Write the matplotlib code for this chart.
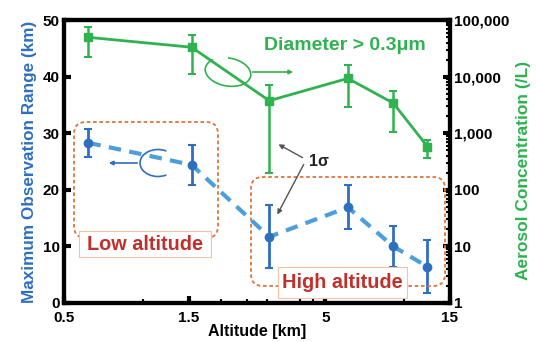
import matplotlib
matplotlib.use('Agg')
import matplotlib.pyplot as plt
from matplotlib.patches import FancyBboxPatch, Arc, Rectangle
from matplotlib.ticker import FixedLocator, NullFormatter, FixedFormatter

plt.rcParams['font.family'] = ['Liberation Sans', 'DejaVu Sans']
plt.rcParams['font.weight'] = 'bold'

# ---- data ----
altitude = [0.62, 1.54, 3.05, 6.1, 9.1, 12.3]
obs_range = [28.3, 24.4, 11.7, 16.9, 10.0, 6.4]
obs_err = [2.5, 3.5, 5.6, 3.9, 3.6, 4.7]
aerosol = [49400, 33000, 3750, 9300, 3400, 580]
aerosol_hi = [76000, 54000, 7100, 16000, 5600, 760]
aerosol_lo = [22500, 11100, 200, 2900, 1060, 360]
x_ticks = [0.5, 1.5, 5, 15]
x_tick_labels = ['0.5', '1.5', '5', '15']
x_minor = [1, 2, 2.5, 3, 4, 4.5, 10]
left_ticks = [0, 10, 20, 30, 40, 50]
right_ticks = [1, 10, 100, 1000, 10000, 100000]
right_tick_labels = ['1', '10', '100', '1,000', '10,000', '100,000']

BLUE = '#2f6fbf'
BLUE_L = '#4d9fdc'
GREEN = '#2fb24f'
ORANGE = '#e0743a'
RED = '#c0302c'

W, H = 536, 342
fig = plt.figure(figsize=(W / 100, H / 100), dpi=100)
ax = fig.add_axes([64 / W, 39 / H, 386 / W, 283 / H])
ax2 = ax.twinx()

# green series (right axis)
gerr = [[v - lo for v, lo in zip(aerosol, aerosol_lo)],
        [hi - v for v, hi in zip(aerosol, aerosol_hi)]]
ax2.errorbar(altitude, aerosol, yerr=gerr, color=GREEN, lw=2, marker='s',
             ms=6, capsize=3, capthick=1.5, elinewidth=1.8, zorder=3)
ax2.set_yscale('log')
ax2.set_ylim(1, 100000)

# blue series (left axis)
ax.errorbar(altitude, obs_range, yerr=obs_err, color=BLUE, ecolor=BLUE,
            lw=0, marker='o', ms=6, capsize=3, capthick=1.5, elinewidth=2,
            zorder=4)
ax.plot(altitude, obs_range, color=BLUE_L, lw=3, ls=(0, (3, 2)), zorder=4)
ax.set_zorder(ax2.get_zorder() + 1)
ax.patch.set_visible(False)

ax.set_xscale('log')
ax.set_xlim(0.5, 15)
ax.set_ylim(0, 50)
ax.xaxis.set_major_locator(FixedLocator(x_ticks))
ax.xaxis.set_major_formatter(FixedFormatter(x_tick_labels))
ax.xaxis.set_minor_locator(FixedLocator(x_minor))
ax.xaxis.set_minor_formatter(NullFormatter())
ax.set_yticks(left_ticks)

ax2.yaxis.set_major_locator(FixedLocator(right_ticks))
ax2.yaxis.set_major_formatter(FixedFormatter(right_tick_labels))

for a in (ax, ax2):
    for s in a.spines.values():
        s.set_linewidth(3)
    a.tick_params(axis='both', which='major', direction='in', length=5,
                  width=3, labelsize=11, pad=3)
    a.tick_params(axis='both', which='minor', direction='in', length=3,
                  width=1.5)
ax.tick_params(axis='x', which='both', top=False)
ax.tick_params(axis='x', which='major', pad=6)

ax.set_xlabel('Altitude [km]', fontsize=11.5, fontweight='bold', labelpad=-1)
ax.set_ylabel('Maximum Observation Range (km)', fontsize=12.3,
              fontweight='bold', color=BLUE, labelpad=4)
ax2.set_ylabel('Aerosol Concentration (/L)', fontsize=12.5,
               fontweight='bold', color=GREEN, labelpad=5)
ax2.yaxis.label.set_y(0.47)

# ---- overlay for annotations (pixel coordinates, y from top) ----
ov = fig.add_axes([0, 0, 1, 1], zorder=10)
ov.set_xlim(0, W)
ov.set_ylim(0, H)
ov.axis('off')
ov.patch.set_visible(False)


def P(x, y):
    return (x, H - y)


def rbox(x0, y0, x1, y1):
    ov.add_patch(FancyBboxPatch(P(x0, y1), x1 - x0, y1 - y0,
                                boxstyle='round,pad=0,rounding_size=12',
                                fc='none', ec=ORANGE, lw=1.3,
                                ls=(0, (2, 1.5))))


def label_box(x0, y0, x1, y1, text):
    ov.add_patch(Rectangle(P(x0, y1), x1 - x0, y1 - y0, fc='white',
                           ec='#f2c2a4', lw=0.8))
    cx, cy = P((x0 + x1) / 2, (y0 + y1) / 2)
    ov.text(cx, cy, text, color=RED, fontsize=14.3, fontweight='bold',
            ha='center', va='center')


rbox(74, 122, 218, 238)
label_box(79, 231, 211, 257, 'Low altitude')
rbox(251, 177, 445, 286)
label_box(278, 267, 407, 298, 'High altitude')

ov.text(*P(345, 45), 'Diameter > 0.3μm', color=GREEN, fontsize=14,
        fontweight='bold', ha='center', va='center')

# ellipse pointers
ov.add_patch(Arc(P(228, 72), 46, 28, angle=-10, theta1=150, theta2=100,
                 color=GREEN, lw=1.2))
ov.annotate('', xy=P(296, 72), xytext=P(250, 72),
            arrowprops=dict(arrowstyle='-|>', color=GREEN, lw=1.2,
                            mutation_scale=6))
ov.add_patch(Arc(P(158, 163), 36, 27, angle=0, theta1=55, theta2=305,
                 color=BLUE, lw=1.2))
ov.annotate('', xy=P(106, 163), xytext=P(140, 163),
            arrowprops=dict(arrowstyle='-|>', color=BLUE, lw=1.2,
                            mutation_scale=6))

# 1 sigma
ov.text(*P(319, 162), '1σ', color='#222222', fontsize=11.5, fontweight='bold',
        ha='center', va='center')
ov.annotate('', xy=P(276, 143), xytext=P(305, 159),
            arrowprops=dict(arrowstyle='-|>', color='#555555', lw=1,
                            mutation_scale=7))
ov.annotate('', xy=P(276, 217), xytext=P(305, 162),
            arrowprops=dict(arrowstyle='-|>', color='#555555', lw=1,
                            mutation_scale=7))

fig.savefig('out.png', dpi=100)
